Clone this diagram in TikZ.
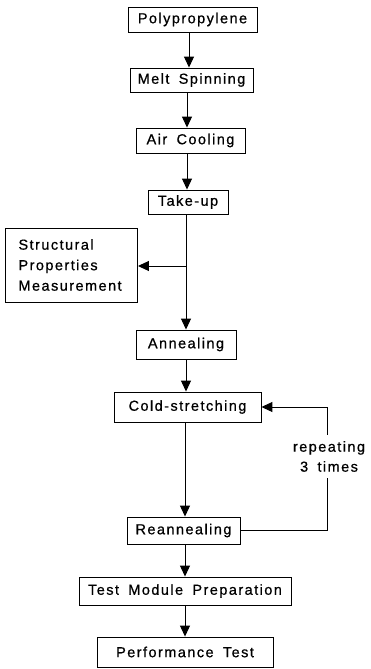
\documentclass[tikz,border=0pt]{standalone}
\usepackage{fontspec}
\setmainfont{Liberation Sans}[LetterSpace=10,WordSpace=1.7,FakeBold=0.7]
\usetikzlibrary{arrows.meta}
\begin{document}
\begin{tikzpicture}[x=1pt,y=-1pt,
  box/.style={draw,line width=0.9pt,inner sep=0pt,font=\fontsize{14.5}{20.5}\selectfont,align=center},
  conn/.style={line width=1pt},
  arr/.style={conn,-{Triangle[length=11pt,width=10pt]}}]
\useasboundingbox (0,0) rectangle (371,669);
\node[box,minimum width=129pt,minimum height=25pt] (poly) at (192.5,19.5) {Polypropylene};
\node[box,minimum width=123pt,minimum height=24pt] (melt) at (191.5,80) {Melt Spinning};
\node[box,minimum width=109pt,minimum height=25pt] (air) at (190.5,140.5) {Air Cooling};
\node[box,minimum width=80pt,minimum height=24pt] (take) at (188,202) {Take-up};
\node[box,minimum width=127pt,minimum height=74pt,align=left,text width=106pt,inner xsep=13pt] (struct) at (71.5,265) {Structural\\Properties\\Measurement};
\node[box,minimum width=100pt,minimum height=29pt] (anneal) at (186,344.5) {Annealing};
\node[box,minimum width=147pt,minimum height=30pt] (cold) at (187.5,407) {Cold-stretching};
\node[box,minimum width=113pt,minimum height=27pt] (rean) at (183.5,530.5) {Reannealing};
\node[box,minimum width=212pt,minimum height=28pt] (test) at (185,591) {Test Module Preparation};
\node[box,minimum width=176pt,minimum height=30pt] (perf) at (185,652) {Performance Test};
\node[font=\fontsize{14.5}{20}\selectfont,align=center,inner sep=0pt,minimum height=43pt] (rep) at (329,456.5) {repeating\\3 times};
\coordinate (s1) at (189,0);
\coordinate (s2) at (187,0);
\coordinate (s3) at (186,0);
\coordinate (s4) at (185,0);
\coordinate (br) at (186,266);
\coordinate (fb) at (327,0);
\draw[arr] (poly.south -| s1) -- (melt.north -| s1);
\draw[arr] (melt.south -| s2) -- (air.north -| s2);
\draw[arr] (air.south -| s2) -- (take.north -| s2);
\draw[arr] (take.south -| s3) -- (anneal.north -| s3);
\draw[arr] (br) -- (br -| struct.east);
\draw[arr] (anneal.south -| s3) -- (cold.north -| s3);
\draw[arr] (cold.south -| s4) -- (rean.north -| s4);
\draw[arr] (rean.south -| s4) -- (test.north -| s4);
\draw[arr] (test.south -| s4) -- (perf.north -| s4);
\draw[conn] (rean.east) -| (rep.south -| fb);
\draw[arr] (rep.north -| fb) |- (cold.east);
\end{tikzpicture}
\end{document}
